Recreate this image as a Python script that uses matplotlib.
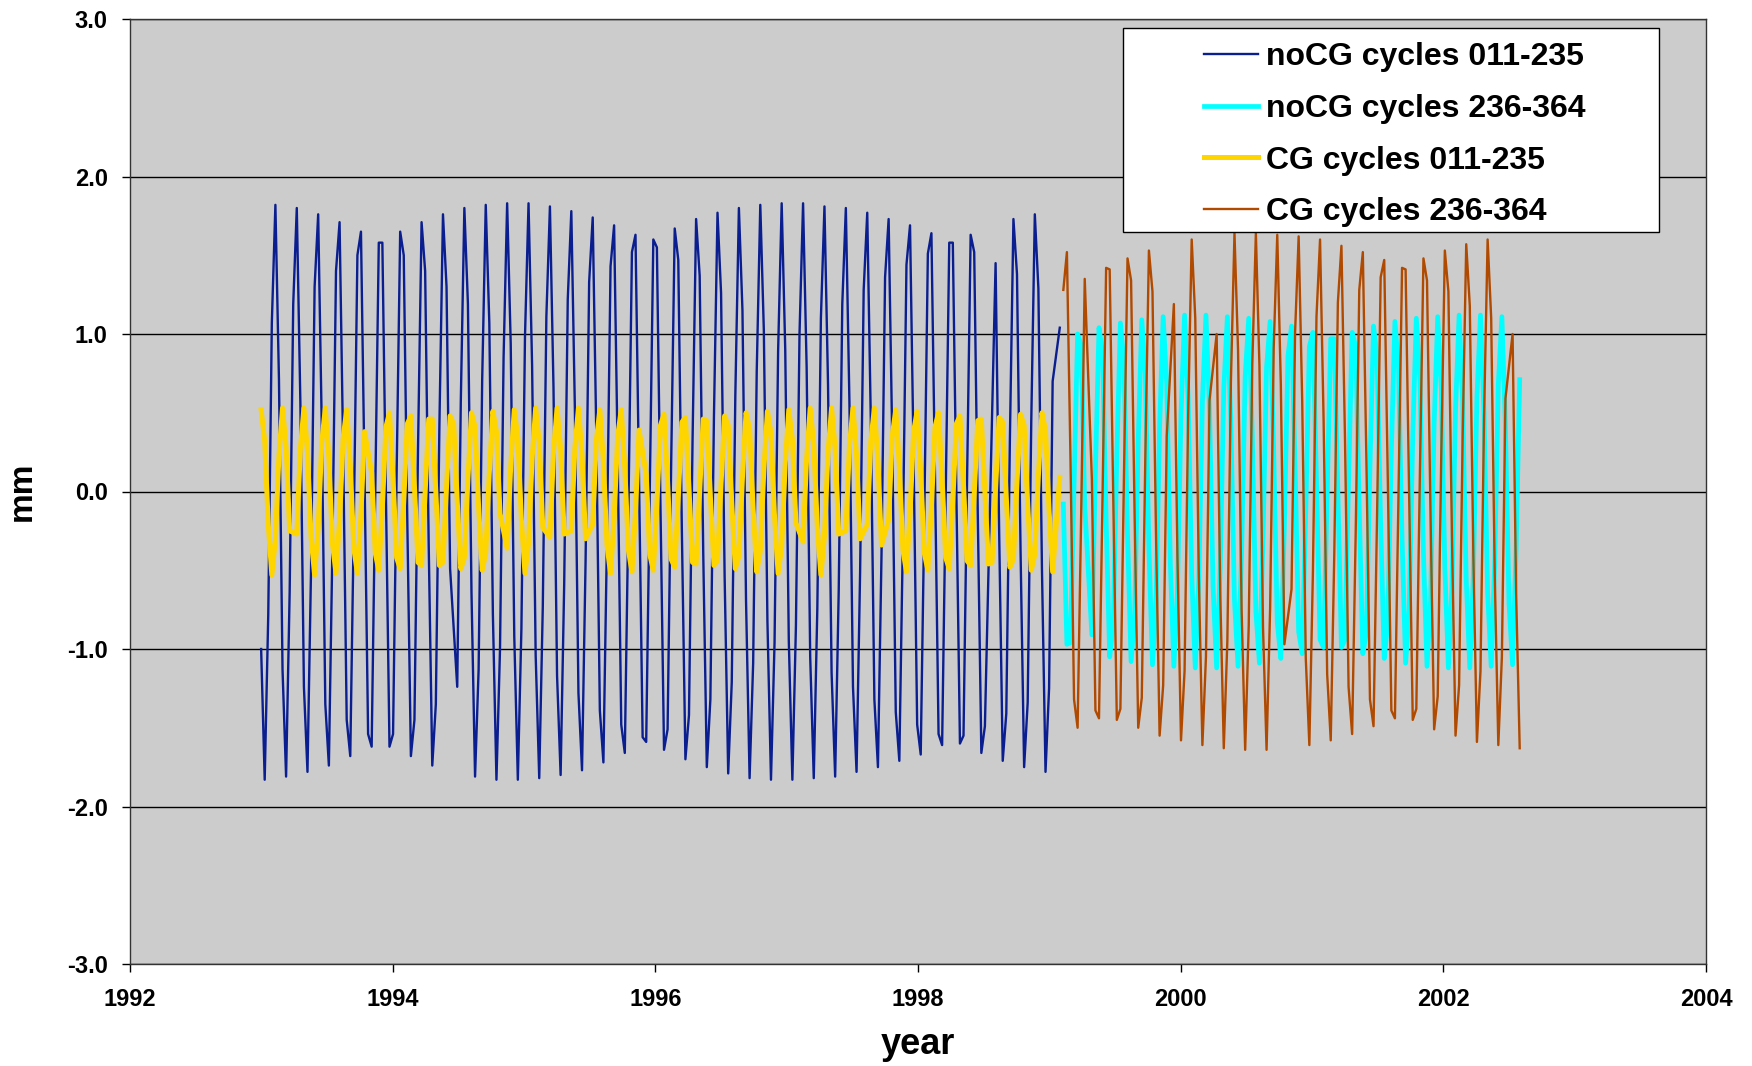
import numpy as np
import matplotlib
matplotlib.use("Agg")
import matplotlib.pyplot as plt
from matplotlib.patches import Rectangle

plt.rcParams['font.family'] = ['Liberation Sans', 'DejaVu Sans']
plt.rcParams['font.weight'] = 'bold'
plt.rcParams['axes.labelweight'] = 'bold'
plt.rcParams['axes.unicode_minus'] = False

# cycle numbers of the two periods
cycles_a = np.arange(11, 236)
cycles_b = np.arange(236, 365)

# mean values per cycle in mm, None = cycle not available
nocg_a = [
    -1.00, -1.83, -0.78, 1.07, 1.82, 0.71,
    -1.13, -1.81, -0.64, 1.19, 1.80, 0.57,
    -1.24, -1.78, -0.49, 1.30, 1.76, 0.42,
    -1.35, -1.74, -0.34, 1.40, 1.71, 0.27,
    -1.45, -1.68, -0.19, 1.50, 1.65, 0.11,
    -1.54, -1.62, -0.04, 1.58, 1.58, -0.04,
    -1.62, -1.54, 0.11, 1.65, 1.50, -0.19,
    -1.68, -1.45, 0.27, 1.71, 1.40, -0.34,
    -1.74, -1.35, 0.42, 1.76, 1.30, -0.49,
    None, -1.24, 0.57, 1.80, 1.19, -0.64,
    -1.81, -1.13, 0.71, 1.82, 1.07, -0.78,
    -1.83, -1.00, 0.85, 1.83, 0.94, -0.92,
    -1.83, -0.87, 0.98, 1.83, 0.80, -1.04,
    -1.82, -0.73, 1.11, 1.81, 0.66, -1.17,
    -1.80, -0.59, 1.22, 1.78, 0.52, -1.28,
    -1.77, -0.44, 1.33, 1.74, 0.37, -1.39,
    -1.72, -0.29, 1.43, 1.69, 0.22, -1.48,
    -1.66, -0.14, 1.52, 1.63, 0.06, -1.56,
    -1.59, 0.01, 1.60, 1.55, -0.09, -1.64,
    -1.51, 0.17, 1.67, 1.47, -0.24, -1.70,
    -1.42, 0.32, 1.73, 1.37, -0.39, -1.75,
    -1.32, 0.47, 1.77, 1.26, -0.54, -1.79,
    -1.21, 0.61, 1.80, 1.15, -0.69, -1.82,
    -1.09, 0.76, 1.82, 1.02, -0.82, -1.83,
    -0.96, 0.89,
    1.83, 0.90, -0.95, -1.83, -0.85, 1.00,
    1.83, 0.79, -1.05, -1.82, -0.74, 1.10,
    1.81, 0.68, -1.15, -1.81, -0.63, 1.19,
    1.80, 0.57, -1.24, -1.78, -0.51, 1.28,
    1.77, 0.45, -1.32, -1.75, -0.40, 1.36,
    1.73, 0.34, -1.40, -1.71, -0.28, 1.44,
    1.69, 0.22, -1.48, -1.67, -0.16, 1.51,
    1.64, 0.10, -1.54, -1.61, -0.04, 1.58,
    1.58, -0.02, -1.60, -1.55, 0.08, 1.63,
    1.52, -0.14, -1.66, -1.49, None, None,
    1.45, -0.26, -1.71, -1.41, 0.32, 1.73,
    1.38, -0.38, -1.75, -1.34, 0.44, 1.76,
    1.29, -0.49, -1.78, -1.25, 0.70, None,
    1.04,
]

cg_a = [
    0.52, 0.32, -0.21, -0.53, -0.30, 0.23,
    0.53, 0.28, -0.25, None, -0.27, 0.27,
    0.53, 0.25, -0.29, -0.53, -0.23, 0.31,
    0.53, 0.21, -0.33, -0.52, -0.18, 0.34,
    0.52, 0.16, -0.36, -0.52, -0.14, 0.38,
    None, 0.12, -0.39, -0.50, -0.10, 0.41,
    0.50, 0.08, -0.42, -0.49, -0.06, 0.43,
    0.48, 0.03, -0.45, -0.47, -0.01, 0.46,
    0.46, -0.01, -0.47, -0.45, 0.03, 0.48,
    0.43, -0.06, -0.49, -0.42, 0.08, 0.50,
    0.41, -0.10, -0.50, -0.39, 0.12, 0.51,
    0.38, -0.14, None, -0.36, 0.16, 0.52,
    0.34, -0.18, -0.52, -0.33, 0.21, 0.53,
    0.31, -0.23, None, -0.29, 0.25, 0.53,
    0.27, -0.27, None, -0.25, 0.28, 0.53,
    0.23, -0.30, None, -0.21, 0.32, 0.52,
    0.19, -0.34, -0.52, -0.17, 0.35, 0.52,
    0.15, -0.37, -0.51, -0.13, 0.39, None,
    0.11, -0.40, -0.50, -0.08, 0.42, 0.49,
    0.06, -0.43, -0.48, -0.04, 0.44, 0.47,
    0.02, -0.45, -0.46, 0.00, 0.46, 0.45,
    -0.03, -0.47, -0.44, 0.05, 0.48, 0.42,
    -0.07, -0.49, -0.41, 0.09, 0.50, 0.40,
    -0.11, -0.51, -0.38, 0.14, 0.51, 0.37,
    -0.16, -0.52,
    -0.35, 0.18, 0.52, 0.33, -0.20, None,
    -0.32, 0.21, 0.53, 0.30, -0.23, -0.53,
    -0.28, 0.25, 0.53, 0.27, -0.27, None,
    -0.25, 0.29, 0.53, 0.23, -0.30, None,
    -0.21, 0.32, 0.53, 0.19, -0.34, None,
    -0.18, 0.35, 0.52, 0.16, -0.37, -0.51,
    -0.14, 0.38, 0.51, 0.12, -0.39, -0.50,
    -0.10, 0.41, 0.50, 0.08, -0.42, -0.49,
    -0.06, 0.43, 0.48, 0.04, -0.44, -0.47,
    -0.02, 0.45, 0.46, 0.00, -0.46, -0.45,
    0.02, 0.47, 0.44, -0.04, -0.48, -0.43,
    0.06, 0.49, 0.42, -0.08, -0.50, -0.40,
    0.10, 0.50, 0.39, -0.12, -0.51, None,
    0.09,
]

nocg_b = [
    -0.08, -0.97, -0.96, 0.04, 1.00, 0.93,
    -0.09, None, -0.91, 0.13, 1.04, 0.88,
    -0.18, -1.05, -0.85, 0.23, 1.07, 0.82,
    -0.27, -1.08, -0.78, 0.32, 1.09, 0.75,
    -0.36, -1.10, -0.71, 0.41, 1.11, 0.68,
    -0.45, -1.11, -0.64, 0.49, 1.12, 0.60,
    -0.53, -1.12, -0.56, 0.57, 1.12, 0.52,
    -0.61, -1.12, -0.48, 0.65, 1.11, 0.43,
    -0.69, -1.11, -0.39, 0.73, 1.10, 0.35,
    -0.76, -1.09, -0.30, 0.79, 1.08, 0.26,
    -0.83, -1.06, -0.21, 0.86, 1.05, 0.16,
    -0.89, -1.03, -0.12, 0.92, 1.01, 0.07,
    -0.94, -0.99, -0.02, 0.97, 0.97, -0.02,
    -0.99, -0.94, 0.07, 1.01, 0.92, -0.12,
    -1.03, -0.89, 0.16, 1.05, 0.86, -0.21,
    -1.06, -0.83, 0.26, 1.08, 0.79, -0.30,
    -1.09, -0.76, 0.35, 1.10, 0.73, -0.39,
    -1.11, -0.69, 0.43, 1.11, 0.65, -0.48,
    -1.12, -0.61, 0.52, 1.12, 0.57, -0.56,
    -1.12, -0.53, 0.60, 1.12, 0.49, -0.64,
    -1.11, -0.45, 0.68, 1.11, 0.41, -0.71,
    -1.10, -0.36, 0.71,
]

cg_b = [
    1.28, 1.52, 0.21, -1.32, -1.50, -0.15,
    1.35, None, 0.08, -1.39, -1.44, -0.02,
    1.42, 1.41, -0.04, -1.45, -1.38, 0.10,
    1.48, 1.34, -0.17, -1.50, -1.31, 0.23,
    1.53, 1.27, -0.29, -1.55, -1.23, 0.35,
    None, 1.19, -0.41, -1.58, -1.14, 0.47,
    1.60, 1.10, -0.53, -1.61, -1.05, 0.58,
    None, 1.00, -0.64, -1.63, -0.95, 0.70,
    1.64, 0.90, -0.75, -1.64, -0.85, 0.81,
    1.64, 0.80, -0.86, -1.64, -0.74, 0.91,
    1.63, 0.68, -0.97, None, -0.62, 1.01,
    1.62, 0.57, -1.06, -1.61, -0.51, 1.11,
    1.60, 0.45, -1.16, -1.58, -0.39, 1.20,
    1.56, 0.33, -1.24, -1.54, -0.26, 1.28,
    1.52, 0.20, -1.32, -1.49, -0.14, 1.36,
    1.47, 0.08, -1.39, -1.44, -0.02, 1.42,
    1.41, -0.04, -1.45, -1.38, 0.11, 1.48,
    1.34, -0.17, -1.51, -1.30, 0.23, 1.53,
    1.27, -0.29, -1.55, -1.23, 0.35, 1.57,
    1.18, -0.41, -1.59, -1.14, 0.47, 1.60,
    1.10, -0.53, -1.61, -1.05, 0.59, None,
    1.00, -0.65, -1.63,
]


def to_year(cycles):
    # cycle 1 starts at 1992.727, repeat period 9.9156 days
    return 1992.727 + (cycles - 1) * 9.9156 / 365.25


def valid(cycles, values):
    vals = np.array([np.nan if v is None else v for v in values], dtype=float)
    keep = ~np.isnan(vals)
    return to_year(cycles[keep]), vals[keep]


fig = plt.figure(figsize=(17.52, 10.66), dpi=100)
ax = fig.add_axes([130 / 1752, 1 - 964 / 1066, 1576 / 1752, 945 / 1066])
ax.set_facecolor('#CCCCCC')

ax.plot(*valid(cycles_a, nocg_a), color='#0A1E8F', lw=1.7, label='noCG cycles 011-235', zorder=3)
ax.plot(*valid(cycles_b, nocg_b), color='#00FFFF', lw=3.4, label='noCG cycles 236-364', zorder=3)
ax.plot(*valid(cycles_a, cg_a), color='#FFD500', lw=3.6, label='CG cycles 011-235', zorder=3)
ax.plot(*valid(cycles_b, cg_b), color='#B04A00', lw=1.7, label='CG cycles 236-364', zorder=3)

ax.set_xlim(1992, 2004)
ax.set_ylim(-3, 3)
ax.set_xticks(np.arange(1992, 2005, 2))
ax.set_yticks(np.arange(-3, 4, 1))
ax.yaxis.set_major_formatter(plt.FormatStrFormatter('%.1f'))
ax.yaxis.grid(True, color='black', lw=1.0)
ax.set_axisbelow(True)
for s in ax.spines.values():
    s.set_color('#333333')
    s.set_linewidth(1.0)
ax.tick_params(axis='both', direction='out', length=6, width=1, labelsize=17)
ax.tick_params(axis='x', pad=11)
ax.tick_params(axis='y', pad=10)

ax.set_xlabel('year', fontsize=26, va='center')
ax.xaxis.set_label_coords(0.5, -(1045 - 964) / 945)
ax.set_ylabel('mm', fontsize=24, va='center', ha='center')
ax.yaxis.set_label_coords((22 - 130) / 1576, 0.5)

# legend box
box = Rectangle((0.630, 0.7746), 0.340, 0.2159, transform=ax.transAxes,
                facecolor='white', edgecolor='black', lw=1.0, zorder=5)
ax.add_patch(box)
leg = ax.legend(loc='upper left', bbox_to_anchor=((1204 - 130) / 1576, 0.9755),
                frameon=False, fontsize=23, handlelength=1.7, handletextpad=0.25,
                labelspacing=0.68, borderpad=0, borderaxespad=0)
leg.set_zorder(6)

fig.savefig('out.png', dpi=100)
